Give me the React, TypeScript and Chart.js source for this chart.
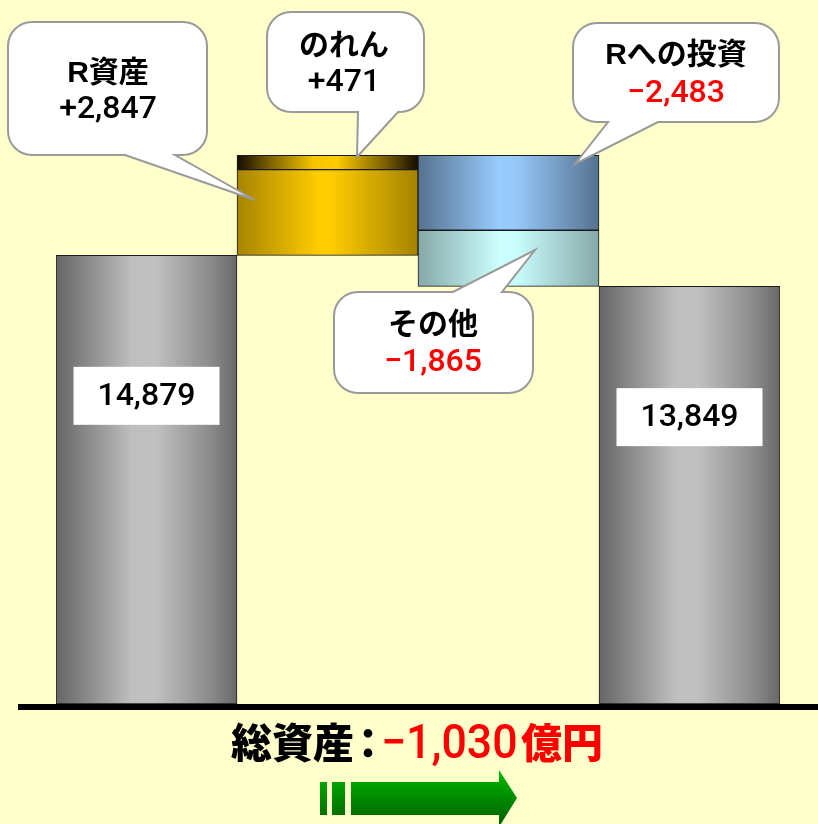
import React, { useEffect, useRef } from 'react';
import { Chart, registerables } from 'chart.js';

Chart.register(...registerables);

// ---------- data ----------
const categories = ['前期末総資産', 'R資産・のれん', 'Rへの投資・その他', '当期末総資産'];
const startTotal = 14879;
const endTotal = 13849;
const changeLabels = ['R資産', 'のれん', 'Rへの投資', 'その他'];
const changeValues = [2847, 471, -2483, -1865];
const changeColumns = [1, 1, 2, 2];
const totalLabel = '総資産';
const unitLabel = '億円';
const yMax = 23350;

// ---------- styles ----------
const BG = '#FFFFCC';
type Stops = [number, string][];
const grayStops: Stops = [[0, '#666666'], [0.12, '#7e7e7e'], [0.42, '#bfbfbf'], [0.55, '#c0c0c0'], [0.85, '#8c8c8c'], [1, '#686868']];
const goldStops: Stops = [[0, '#A68400'], [0.45, '#FFCC00'], [0.52, '#FFCC00'], [1, '#A38200']];
const darkGoldStops: Stops = [[0, '#120c00'], [0.18, '#7a6000'], [0.42, '#F5C400'], [0.55, '#FFCC00'], [0.82, '#7a6000'], [1, '#120c00']];
const blueStops: Stops = [[0, '#56728F'], [0.45, '#99CCFF'], [0.55, '#96C7F8'], [1, '#557290']];
const cyanStops: Stops = [[0, '#86A8A8'], [0.45, '#CCFFFF'], [0.55, '#C8FBFB'], [1, '#86A8A8']];
const changeStops = [goldStops, darkGoldStops, blueStops, cyanStops];

const NUM_FONT = '"Roboto", "Liberation Sans", Arial, sans-serif';

function hGrad(stops: Stops) {
  return (ctx: any) => {
    const chart = ctx.chart;
    const area = chart.chartArea;
    if (!area || ctx.type !== 'data') return stops[1][1];
    const xs = chart.scales.x;
    const cx = xs.getPixelForValue(ctx.dataIndex);
    const w = (area.right - area.left) / categories.length;
    const g = chart.ctx.createLinearGradient(cx - w / 2, 0, cx + w / 2, 0);
    stops.forEach(([o, c]) => g.addColorStop(o, c));
    return g;
  };
}

function fmt(v: number) {
  const s = Math.abs(v).toLocaleString('en-US');
  return (v < 0 ? '−' : '+') + s;
}

// build floating ranges
const ranges: [number, number][] = [];
{
  let run = startTotal;
  changeValues.forEach((v) => {
    ranges.push([Math.min(run, run + v), Math.max(run, run + v)]);
    run += v;
  });
}

// callout layout (annotation boxes; position only)
const calloutLayout = [
  { x: 8, y: 22, w: 199, h: 133, tail: 'bottom', t1: 125, t2: 175, tipX: 255, tipY: 200, cx: 108, l1: 74, l2: 110 },
  { x: 267, y: 12, w: 157, h: 100, tail: 'bottom', t1: 358, t2: 398, tipX: 357, tipY: 157, cx: 344, l1: 47, l2: 83 },
  { x: 573, y: 23, w: 206, h: 99, tail: 'bottom', t1: 608, t2: 658, tipX: 575, tipY: 164, cx: 676, l1: 56, l2: 94 },
  { x: 334, y: 292, w: 199, h: 101, tail: 'top', t1: 453, t2: 502, tipX: 535, tipY: 250, cx: 433, l1: 326, l2: 363 },
];

function calloutPath(ctx: CanvasRenderingContext2D, c: any, r: number) {
  const { x, y, w, h } = c;
  ctx.beginPath();
  ctx.moveTo(x + r, y);
  if (c.tail === 'top') {
    ctx.lineTo(c.t1, y);
    ctx.lineTo(c.tipX, c.tipY);
    ctx.lineTo(c.t2, y);
  }
  ctx.lineTo(x + w - r, y);
  ctx.arcTo(x + w, y, x + w, y + r, r);
  ctx.lineTo(x + w, y + h - r);
  ctx.arcTo(x + w, y + h, x + w - r, y + h, r);
  if (c.tail === 'bottom') {
    ctx.lineTo(c.t2, y + h);
    ctx.lineTo(c.tipX, c.tipY);
    ctx.lineTo(c.t1, y + h);
  }
  ctx.lineTo(x + r, y + h);
  ctx.arcTo(x, y + h, x, y + h - r, r);
  ctx.lineTo(x, y + r);
  ctx.arcTo(x, y, x + r, y, r);
  ctx.closePath();
}

const decorPlugin = {
  id: 'decor',
  beforeDraw(chart: any) {
    const ctx = chart.ctx as CanvasRenderingContext2D;
    ctx.save();
    ctx.fillStyle = BG;
    ctx.fillRect(0, 0, chart.width, chart.height);
    ctx.restore();
  },
  afterDatasetsDraw(chart: any) {
    const ctx = chart.ctx as CanvasRenderingContext2D;
    const ys = chart.scales.y;
    const zero = ys.getPixelForValue(0);
    ctx.save();

    // baseline
    ctx.fillStyle = '#000000';
    ctx.fillRect(18, zero, chart.width - 18, 6);

    // white value boxes on total bars
    const meta = chart.getDatasetMeta(0);
    [0, 3].forEach((i) => {
      const el = meta.data[i];
      const raw = chart.data.datasets[0].data[i] as [number, number];
      const cy = el.base - (el.base - el.y) * 0.687;
      const bw = 146, bh = 58;
      ctx.fillStyle = '#FFFFFF';
      ctx.fillRect(el.x - bw / 2, cy - bh / 2, bw, bh);
      ctx.fillStyle = '#000000';
      ctx.font = '500 32px ' + NUM_FONT;
      ctx.textAlign = 'center';
      ctx.textBaseline = 'middle';
      ctx.fillText(raw[1].toLocaleString('en-US'), el.x, cy + 1);
    });

    // callouts
    calloutLayout.forEach((c, k) => {
      calloutPath(ctx, c, 24);
      ctx.fillStyle = '#FFFFFF';
      ctx.fill();
      ctx.lineWidth = 2;
      ctx.strokeStyle = '#9a9a9a';
      ctx.stroke();
      ctx.textAlign = 'center';
      ctx.textBaseline = 'middle';
      ctx.fillStyle = '#000000';
      ctx.font = 'bold 30px "Liberation Sans", "Noto Sans CJK JP", sans-serif';
      ctx.fillText(changeLabels[k], c.cx, c.l1);
      ctx.fillStyle = changeValues[k] < 0 ? '#FF0000' : '#000000';
      ctx.font = '500 32px ' + NUM_FONT;
      ctx.fillText(fmt(changeValues[k]), c.cx, c.l2);
    });

    // bottom summary text
    const net = endTotal - startTotal;
    const baseY = 758;
    ctx.textBaseline = 'alphabetic';
    ctx.textAlign = 'left';
    ctx.fillStyle = '#000000';
    ctx.font = '900 41px "Noto Sans CJK JP", sans-serif';
    ctx.fillText(totalLabel, 231, baseY);
    ctx.textAlign = 'center';
    ctx.fillText('：', 368, baseY);
    ctx.fillStyle = '#FF0000';
    ctx.textAlign = 'left';
    ctx.save();
    ctx.translate(381, baseY);
    ctx.scale(0.93, 1);
    ctx.font = '500 48px ' + NUM_FONT;
    ctx.fillText(fmt(net), 0, 0);
    ctx.restore();
    ctx.font = '900 41px "Noto Sans CJK JP", sans-serif';
    ctx.fillText(unitLabel, 521, baseY);

    // green arrow
    const g = ctx.createLinearGradient(0, 770, 0, 826);
    g.addColorStop(0, '#00B800');
    g.addColorStop(1, '#005E00');
    ctx.fillStyle = g;
    ctx.fillRect(320, 782, 7, 33);
    ctx.fillRect(332, 782, 13, 33);
    ctx.beginPath();
    ctx.moveTo(351, 782);
    ctx.lineTo(499, 782);
    ctx.lineTo(499, 770);
    ctx.lineTo(517, 798);
    ctx.lineTo(499, 827);
    ctx.lineTo(499, 815);
    ctx.lineTo(351, 815);
    ctx.closePath();
    ctx.fill();

    ctx.restore();
  },
};

export default function App() {
  const ref = useRef<HTMLCanvasElement>(null);
  useEffect(() => {
    const totalsData = categories.map((_, i) =>
      i === 0 ? [0, startTotal] : i === categories.length - 1 ? [0, endTotal] : null
    );
    const datasets: any[] = [
      {
        label: totalLabel,
        data: totalsData,
        backgroundColor: hGrad(grayStops),
      },
      ...changeLabels.map((lab, k) => ({
        label: lab,
        data: categories.map((_, i) => (i === changeColumns[k] ? ranges[k] : null)),
        backgroundColor: hGrad(changeStops[k]),
      })),
    ].map((d) => ({
      ...d,
      borderColor: '#1a1a1a',
      borderWidth: 1,
      borderSkipped: false,
      grouped: false,
      barPercentage: 1,
      categoryPercentage: 1,
    }));

    const chart = new Chart(ref.current as HTMLCanvasElement, {
      type: 'bar',
      data: { labels: categories, datasets },
      options: {
        responsive: false,
        animation: false,
        layout: { padding: { left: 56, right: 38, top: 0, bottom: 120 } },
        scales: {
          x: { display: false, grid: { display: false } },
          y: { display: false, min: 0, max: yMax, grid: { display: false } },
        },
        plugins: { legend: { display: false }, tooltip: { enabled: false } },
      },
      plugins: [decorPlugin],
    });
    return () => chart.destroy();
  }, []);
  return (
    <div style={{ position: 'fixed', left: 0, top: 0, width: 818, height: 824, background: BG }}>
      <canvas ref={ref} width={818} height={824} style={{ display: 'block', width: 818, height: 824 }} />
    </div>
  );
}
